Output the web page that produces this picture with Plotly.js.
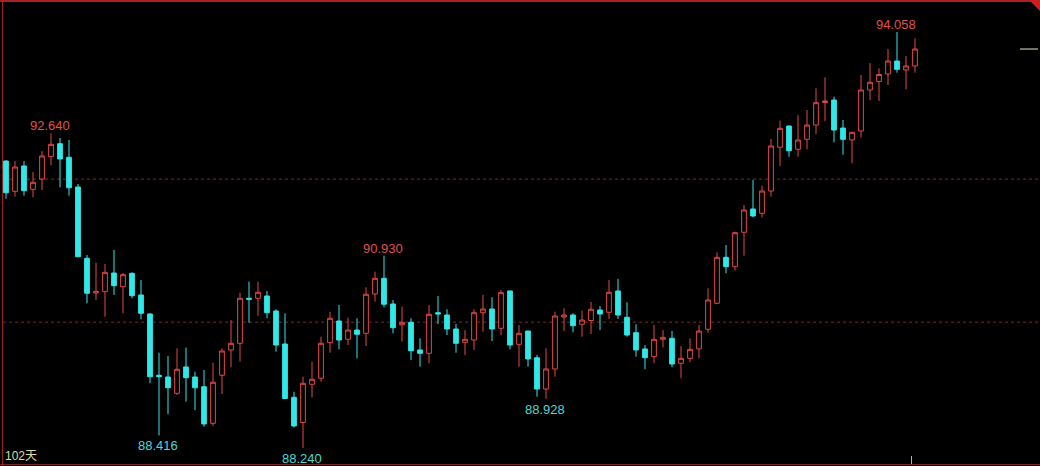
<!DOCTYPE html>
<html>
<head>
<meta charset="utf-8">
<script src="https://cdn.plot.ly/plotly-3.0.1.min.js"></script>
<style>
html,body{margin:0;padding:0;background:#000;}
#chart{width:1040px;height:466px;}
</style>
</head>
<body>
<div id="chart"></div>
<script>
// Daily candles (102 days)
var openP = [92.254,91.830,92.184,91.858,92.002,92.314,92.496,92.306,91.890,90.893,
90.408,90.426,90.687,90.496,90.683,90.380,90.114,89.257,89.233,89.005,
89.373,89.233,89.097,88.585,89.257,89.611,89.704,90.334,90.334,90.366,
90.156,89.694,88.949,88.597,89.131,89.215,89.713,90.016,89.760,89.890,
89.844,90.394,90.613,90.254,89.964,89.998,89.611,89.564,90.132,90.100,
89.904,89.718,89.750,90.132,90.184,89.914,90.436,89.690,89.876,89.503,
89.065,89.345,90.072,90.100,89.971,90.023,90.170,90.138,90.436,90.068,
89.853,89.625,89.517,89.760,89.774,89.425,89.494,89.625,89.900,90.264,
90.907,90.776,91.257,91.583,91.522,91.834,92.446,92.743,92.418,92.557,
92.757,93.072,93.107,92.715,92.548,92.673,93.247,93.366,93.471,93.652,
93.527,93.583];
var highP = [92.262,92.254,92.254,92.100,92.394,92.640,92.576,92.548,91.932,90.939,
90.832,90.813,91.009,90.687,90.697,90.590,90.124,89.573,89.527,89.634,
89.643,89.307,89.331,89.433,89.634,90.030,90.412,90.566,90.566,90.436,
90.180,90.124,89.027,89.237,89.447,89.797,90.146,90.240,90.062,90.054,
90.487,90.706,90.930,90.310,90.216,90.054,89.774,90.240,90.366,90.180,
89.974,89.890,90.180,90.380,90.348,90.450,90.440,89.960,89.880,89.541,
89.634,90.146,90.194,90.124,90.160,90.282,90.226,90.590,90.604,90.278,
89.970,89.680,89.960,89.890,89.876,89.666,89.774,89.960,90.473,90.977,
91.079,91.265,91.638,91.988,91.908,92.562,92.818,92.750,92.897,92.967,
93.271,93.424,93.153,92.827,92.660,93.457,93.624,93.550,93.820,94.058,
93.722,93.970];
var lowP = [91.727,91.755,91.769,91.746,91.848,92.194,91.886,91.769,90.910,90.264,
90.310,90.076,90.380,90.124,90.334,90.040,89.145,88.416,88.711,88.981,
88.887,88.771,88.538,88.548,88.995,89.369,89.447,89.992,90.090,90.054,
89.587,88.930,88.529,88.240,88.949,89.167,89.573,89.620,89.680,89.494,
89.666,90.286,90.208,89.844,89.727,89.471,89.377,89.425,89.974,89.820,
89.573,89.541,89.611,89.866,89.736,89.820,89.620,89.377,89.377,88.957,
88.928,89.237,89.876,89.858,89.797,89.834,89.890,90.044,90.044,89.797,
89.517,89.341,89.425,89.648,89.369,89.215,89.439,89.494,89.853,90.250,
90.683,90.720,90.929,91.466,91.466,91.755,92.184,92.314,92.314,92.418,
92.632,92.813,92.515,92.342,92.222,92.583,93.103,93.093,93.317,93.489,
93.257,93.489];
var closeP = [91.810,92.170,91.839,91.956,92.324,92.487,92.282,91.880,90.915,90.404,
90.429,90.697,90.510,90.664,90.370,90.124,89.237,89.237,89.083,89.341,
89.223,89.083,88.576,89.159,89.597,89.704,90.334,90.320,90.418,90.132,
89.680,88.932,88.548,89.145,89.201,89.704,90.054,89.750,89.890,89.830,
90.390,90.613,90.250,89.922,89.998,89.601,89.564,90.110,90.114,89.904,
89.704,89.760,90.132,90.184,89.904,90.412,89.680,89.844,89.485,89.065,
89.345,90.086,90.100,89.950,90.030,90.180,90.114,90.418,90.100,89.820,
89.611,89.503,89.760,89.788,89.415,89.494,89.620,89.876,90.310,90.907,
90.776,91.251,91.569,91.485,91.834,92.464,92.711,92.398,92.548,92.757,
93.069,93.093,92.687,92.557,92.655,93.247,93.355,93.464,93.652,93.536,
93.583,93.820];
var highMarkIdx = [5, 42, 99];
var lowMarkIdx = [17, 33, 60];
var gridLevels = [92, 90];
var dayLabel = '102天';

var xs = openP.map(function(_, i){ return i; });

var UP = '#e04848', DOWN = '#30e8e8';
var trace = {
  type: 'candlestick',
  x: xs, open: openP, high: highP, low: lowP, close: closeP,
  increasing: {line: {color: UP, width: 1}, fillcolor: '#000000'},
  decreasing: {line: {color: DOWN, width: 1}, fillcolor: DOWN},
  whiskerwidth: 0,
  hoverinfo: 'skip',
  showlegend: false
};

var W = 1040, H = 466;
var pxPerDay = 9, firstX = 6;
var x0 = (0 - firstX) / pxPerDay, x1 = (W - firstX) / pxPerDay;
var yTop = 94.5056, perPx = 0.013986;
var y0 = yTop - perPx * H;

var shapes = [];
gridLevels.forEach(function(v){
  shapes.push({type:'line', xref:'paper', yref:'y', x0: 3/W, x1: 1, y0: v, y1: v,
    line:{color:'#7e2828', width:1, dash:'dot'}, layer:'below'});
});
// frame
shapes.push({type:'line', xref:'paper', yref:'paper', x0: 2.5/W, x1: 2.5/W, y0: 0, y1: 1,
  line:{color:'#9a2424', width:1}});
shapes.push({type:'line', xref:'paper', yref:'paper', x0: 0, x1: 1, y0: 1-1/H, y1: 1-1/H,
  line:{color:'#a82222', width:2}});
shapes.push({type:'line', xref:'paper', yref:'paper', x0: 0, x1: 1, y0: 1.5/H, y1: 1.5/H,
  line:{color:'#7a2424', width:1}});
shapes.push({type:'path', xref:'paper', yref:'paper',
  path: 'M ' + (1029/W) + ' 1 L 1 1 L 1 ' + (1-11/H) + ' Z',
  fillcolor:'#c82020', line:{width:0}});
// last price marker
shapes.push({type:'line', xref:'paper', yref:'y', x0: 1020/W, x1: 1038/W,
  y0: closeP[closeP.length-1], y1: closeP[closeP.length-1],
  line:{color:'#efe6c0', width:1}});
// bottom tick
shapes.push({type:'line', xref:'paper', yref:'paper', x0: 911.5/W, x1: 911.5/W, y0: 2/H, y1: 10/H,
  line:{color:'#b0b0b0', width:1}});

var annotations = [];
highMarkIdx.forEach(function(i){
  annotations.push({x: i, y: highP[i], xref:'x', yref:'y', text: highP[i].toFixed(3),
    showarrow:false, yanchor:'bottom', xanchor:'center', yshift: -2, xshift: -1,
    font:{family:'Liberation Sans, Arial, sans-serif', size:13, color:'#e0504c'}});
});
lowMarkIdx.forEach(function(i){
  annotations.push({x: i, y: lowP[i], xref:'x', yref:'y', text: lowP[i].toFixed(3),
    showarrow:false, yanchor:'top', xanchor:'center', yshift: -1, xshift: -1,
    font:{family:'Liberation Sans, Arial, sans-serif', size:13, color:'#4ad8d8'}});
});
annotations.push({x: 3/W, y: (H-456)/H, xref:'paper', yref:'paper', text: dayLabel,
  showarrow:false, xanchor:'left', yanchor:'middle',
  font:{family:'Liberation Sans, Noto Sans CJK SC, sans-serif', size:12, color:'#dcdca0'}});

var layout = {
  width: W, height: H,
  margin: {l:0, r:0, t:0, b:0, pad:0},
  paper_bgcolor: '#000000', plot_bgcolor: '#000000',
  xaxis: {range:[x0, x1], visible:false, rangeslider:{visible:false}, fixedrange:true},
  yaxis: {range:[y0, yTop], visible:false, fixedrange:true},
  boxgap: 0.25,
  shapes: shapes,
  annotations: annotations,
  showlegend: false
};

Plotly.newPlot('chart', [trace], layout, {staticPlot:true, displayModeBar:false});
</script>
</body>
</html>
